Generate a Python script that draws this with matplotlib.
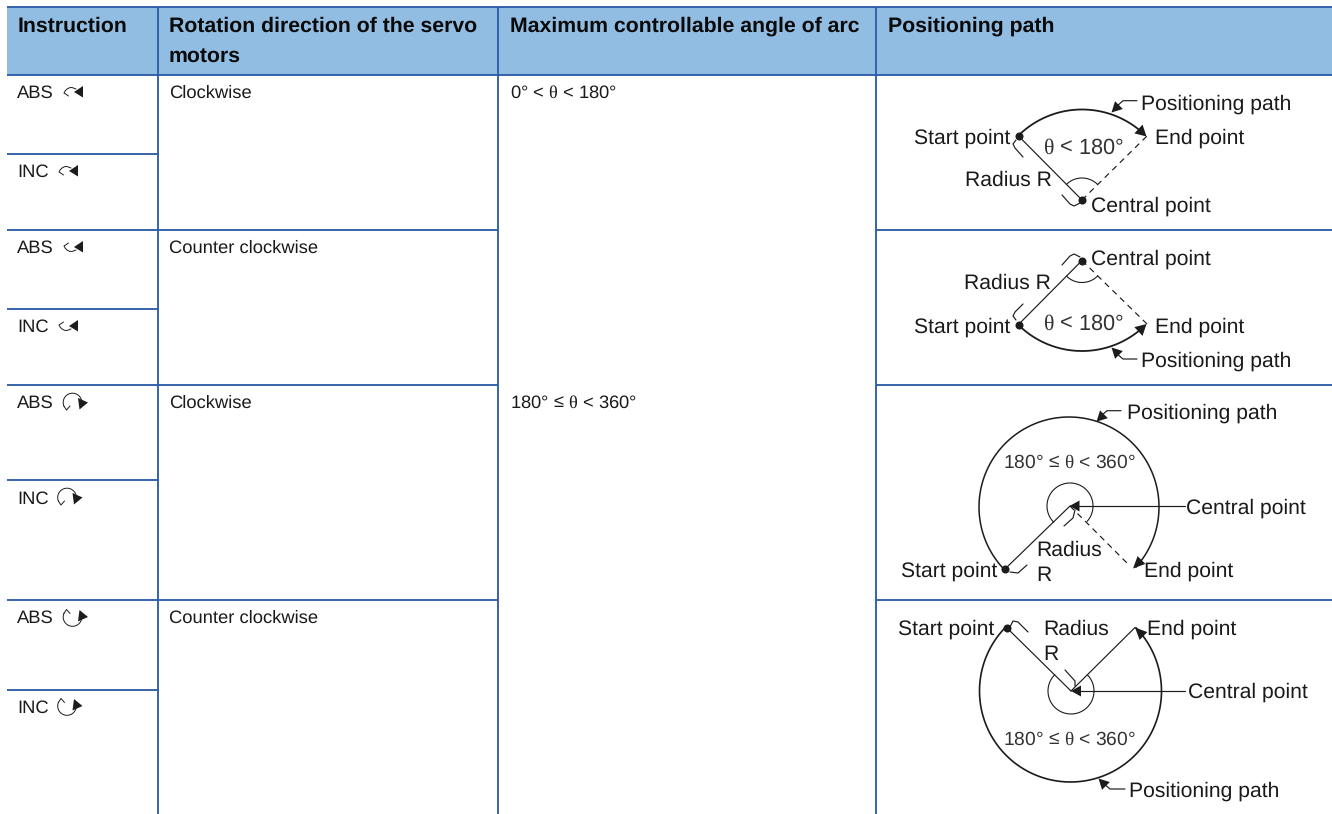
import numpy as np
import matplotlib
matplotlib.use("Agg")
import matplotlib.pyplot as plt
from matplotlib.patches import Polygon, Rectangle

plt.rcParams['font.family'] = ['Liberation Sans', 'DejaVu Sans']
plt.rcParams['text.hinting'] = 'no_hinting'
plt.rcParams['mathtext.fontset'] = 'custom'
plt.rcParams['mathtext.rm'] = 'Liberation Sans'
plt.rcParams['mathtext.it'] = 'Liberation Serif'
plt.rcParams['mathtext.default'] = 'it'

# ---- table content ----
headers = ["Instruction", "Rotation direction of the servo\nmotors",
           "Maximum controllable angle of arc", "Positioning path"]
instructions = ["ABS", "INC", "ABS", "INC", "ABS", "INC", "ABS", "INC"]
instruction_y = [98, 177, 253, 332, 408, 504, 623, 713]
icon_kinds = ["cw_small", "cw_small", "ccw_small", "ccw_small",
              "cw_big", "cw_big", "ccw_big", "ccw_big"]
icon_x = [64, 59, 64, 59, 72.5, 67, 72.5, 67]
icon_y = [92, 171, 247, 326, 402.5, 497.5, 617, 706]
directions = ["Clockwise", "Counter clockwise", "Clockwise", "Counter clockwise"]
direction_y = [98, 253, 408, 623]
angles = ["0\u00b0 < $\\theta$ < 180\u00b0", "180\u00b0 \u2264 $\\theta$ < 360\u00b0"]
angle_y = [98, 408]

col_x = [7, 158, 498, 876, 1332]
header_top, header_bottom, table_bottom = 7, 75, 814
row_full = [230, 385, 600]          # rules over columns 0, 1 and 3
row_first_col = [154, 309, 480, 690]  # rules over column 0 only

HEADER_BG = "#92BDE3"
RULE = "#2E5DA8"
INK = "#1c1c1c"
BODY = 13.2
LABEL = 15.2
SMALL = 13.9

fig = plt.figure(figsize=(13.32, 8.14), dpi=100)
ax = fig.add_axes([0, 0, 1, 1])
ax.set_xlim(0, 1332)
ax.set_ylim(814, 0)
ax.axis("off")


def hline(y, x0, x1):
    ax.plot([x0, x1], [y, y], color=RULE, lw=1.35, solid_capstyle="butt")


def vline(x, y0, y1):
    ax.plot([x, x], [y0, y1], color=RULE, lw=1.35, solid_capstyle="butt")


def arc(cx, cy, r, a0, a1, lw=1.0, color=INK):
    t = np.radians(np.linspace(a0, a1, 120))
    ax.plot(cx + r * np.cos(t), cy - r * np.sin(t), color=color, lw=lw,
            solid_capstyle="round")


def head(tip, direction_deg, size=10.5, width=5.5):
    t = np.radians(direction_deg)
    d = np.array([np.cos(t), -np.sin(t)])
    n = np.array([-d[1], d[0]])
    tip = np.array(tip, float)
    base = tip - d * size
    ax.add_patch(Polygon([tip, base + n * width, base - n * width],
                         closed=True, fc=INK, ec="none", zorder=5))


def dot(x, y):
    ax.plot([x], [y], "o", ms=5.8, color=INK, mec="none", zorder=6)


def label(x, y, s, size=LABEL, color="#1a1a1a", ha="left"):
    ax.text(x, y, s, fontsize=size, color=color, ha=ha, va="baseline")


def line(pts, lw=0.85, ls="-"):
    xs, ys = zip(*pts)
    ax.plot(xs, ys, color=INK, lw=lw, ls=ls, solid_capstyle="round")


# ---- table frame ----
ax.add_patch(Rectangle((col_x[0], header_top), col_x[-1] - col_x[0],
                       header_bottom - header_top, fc=HEADER_BG, ec="none"))
hline(header_top, col_x[0], col_x[-1])
hline(header_bottom, col_x[0], col_x[-1])
for x in col_x[1:4]:
    vline(x, header_top, table_bottom)
for y in row_full:
    hline(y, col_x[0], col_x[2])
    hline(y, col_x[3], col_x[4])
for y in row_first_col:
    hline(y, col_x[0], col_x[1])

# ---- header text ----
head_x = [18, 169, 510, 888]
for x, h in zip(head_x, headers):
    for i, part in enumerate(h.split("\n")):
        ax.text(x, 32 + i * 30, part, fontsize=15.3, fontweight="bold",
                color="#0a0a0a", va="baseline", ha="left")

# ---- body text ----
for s, y in zip(instructions, instruction_y):
    label(17.5 if s == "INC" else 17, y, s, size=BODY)
for s, y in zip(directions, direction_y):
    label(169, y, s, size=BODY)
for s, y in zip(angles, angle_y):
    label(509.5, y, s, size=BODY)


# ---- instruction icons ----
SMALL_CURVE = [(4.5, 4), (2.2, 2.4), (0, 1), (1.2, -1.2), (3, -3), (5.5, -4.3),
               (8, -4.5), (12, -3)]
SMALL_HEAD = [(10, 0), (19, -6), (19, 5.5)]


def icon(kind, x, y):
    if kind in ("cw_small", "ccw_small"):
        s = 1 if kind == "cw_small" else -1
        line([(x + px, y + s * py) for px, py in SMALL_CURVE], lw=0.7)
        ax.add_patch(Polygon([(x + px, y + py) for px, py in SMALL_HEAD],
                             fc=INK, ec="none"))
    else:
        s = 1 if kind == "cw_big" else -1
        arc(x, y, 9.3, s * 10, s * 205, lw=0.7)
        line([(x - 8.6, y + s * 3.6), (x - 6, y + s * 7.5), (x - 2.5, y + s * 3.5)], lw=0.7)
        ax.add_patch(Polygon([(x + 5.5, y - s * 4.5), (x + 15.5, y), (x + 7, y + s * 7)],
                             fc=INK, ec="none"))


for k, x, y in zip(icon_kinds, icon_x, icon_y):
    icon(k, x, y)

# ---- diagram 1 : clockwise, < 180 ----
cx, cy = 1082, 200
arc(cx, cy, 90.5, 135, 47, lw=1.3)
head((1146.5, 136.5), -43, size=11, width=6)
line([(1018.5, 136), (cx, cy)])
line([(cx, cy), (1147, 136)], ls=(0, (5, 4)))
arc(cx, cy, 22, 135, 45, lw=0.8)
dot(1018.5, 136)
dot(cx, cy)
line([(1137, 100.7), (1123, 100.7), (1116, 107)])
head((1111.5, 112.5), 225)
line([(1016, 140), (1013, 144), (1015, 148), (1023, 157)])
line([(1062, 195), (1070, 204), (1074, 206), (1080, 203)])
label(914, 144, "Start point")
label(1155, 144, "End point")
label(1141, 110, "Positioning path")
label(1091, 212, "Central point")
label(965, 186, "Radius R")
label(1043, 154, "$\\theta$ < 180\u00b0", size=15.7, color="#333333")

# ---- diagram 2 : counter clockwise, < 180 ----
cx, cy = 1082, 260.5
arc(cx, cy, 90.5, 225, 313, lw=1.3)
head((1146.5, 324), 43, size=11, width=6)
line([(1018.5, 324.5), (cx, cy)])
line([(cx, cy), (1147, 324)], ls=(0, (5, 4)))
arc(cx, cy, 22, 225, 315, lw=0.8)
dot(1018.5, 324.5)
dot(cx, cy)
line([(1137, 359), (1123, 359), (1116, 353)])
head((1111.5, 347.5), 135)
line([(1016, 320), (1013, 316), (1015, 312), (1023, 304)])
line([(1062, 265), (1070, 256), (1074, 254), (1080, 257)])
label(914, 333, "Start point")
label(1155, 333, "End point")
label(1141, 367, "Positioning path")
label(1091, 265, "Central point")
label(964, 289, "Radius R")
label(1043, 330, "$\\theta$ < 180\u00b0", size=15.7, color="#333333")

# ---- diagram 3 : clockwise, >= 180 ----
cx, cy = 1069, 507
arc(cx, cy, 90, 225, -42, lw=1.1)
head((1133, 568.5), 225, size=12)
line([(1005, 569), (1070, 506)])
line([(1070, 506), (1129, 565)], ls=(0, (5, 4)))
arc(1070, 506, 23, 225, -42, lw=0.8)
dot(1005, 569)
line([(1185, 506), (1078, 506)])
head((1069.5, 506), 180, size=10)
line([(1075, 510), (1073, 518), (1064, 526)])
line([(1010, 572), (1018, 573), (1027, 565)])
line([(1121, 410.7), (1107, 410.7), (1101, 416)])
head((1096.5, 421.7), 225)
label(901, 577, "Start point")
label(1144, 577, "End point")
label(1127, 419, "Positioning path")
label(1186, 514, "Central point")
label(1036, 556, "Radius")
label(1036, 581, "R")
label(1003, 468, "180\u00b0 \u2264 $\\theta$ < 360\u00b0", size=SMALL, color="#333333")

# ---- diagram 4 : counter clockwise, >= 180 ----
cx, cy = 1070.5, 691
arc(cx, cy, 91, 135, 360 + 44, lw=1.2)
head((1135, 627.5), 135, size=12)
line([(1006.5, 627.5), (1071, 691)])
line([(1071, 691), (1135, 627.5)])
arc(1071, 691, 23, 135, 405, lw=0.8)
dot(1006.5, 627.5)
line([(1185, 691), (1080, 691)])
head((1071, 691), 180, size=10)
line([(1075, 686), (1075, 681), (1065, 670)])
line([(1010, 627), (1013, 621), (1018, 622), (1028, 632)])
line([(1125, 789), (1110, 789), (1103, 783)])
head((1098.5, 778.5), 135)
label(898, 635, "Start point")
label(1147, 635, "End point")
label(1129, 797, "Positioning path")
label(1188, 698, "Central point")
label(1043, 635, "Radius")
label(1043, 660, "R")
label(1003, 745, "180\u00b0 \u2264 $\\theta$ < 360\u00b0", size=SMALL, color="#333333")

fig.savefig("out.png", dpi=100, facecolor="white")
